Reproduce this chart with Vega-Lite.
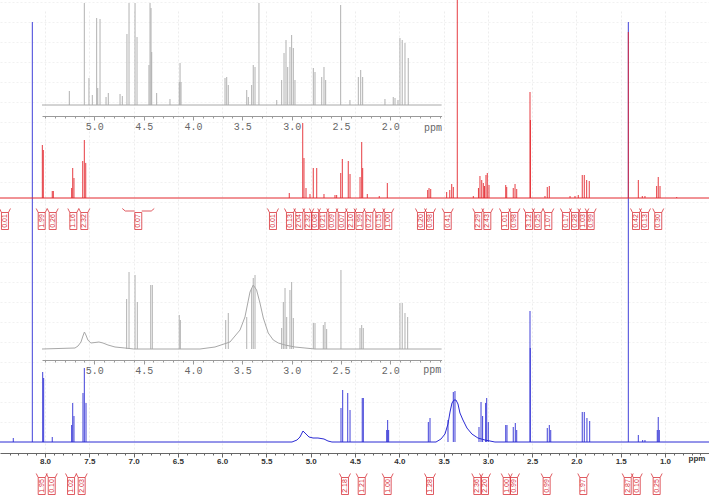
{
  "$schema": "https://vega.github.io/schema/vega-lite/v6.json",
  "width": 709,
  "height": 453,
  "autosize": "none",
  "padding": {"left": 0, "top": 0, "right": 0, "bottom": 44},
  "background": "white",
  "config": {"view": {"stroke": null}},
  "datasets": {
    "red_profile": [{"ppm": 8.508, "h": 0}, {"ppm": 0.503, "h": 0}],
    "red_sticks": [
      {"ppm": 8.030, "h": 53}, {"ppm": 8.019, "h": 48}, {"ppm": 7.918, "h": 7}, {"ppm": 7.906, "h": 7},
      {"ppm": 7.699, "h": 10}, {"ppm": 7.687, "h": 30}, {"ppm": 7.673, "h": 20}, {"ppm": 7.574, "h": 37},
      {"ppm": 7.556, "h": 58}, {"ppm": 7.540, "h": 35}, {"ppm": 5.242, "h": 5}, {"ppm": 5.090, "h": 75},
      {"ppm": 5.076, "h": 40}, {"ppm": 5.053, "h": 10}, {"ppm": 5.008, "h": 4}, {"ppm": 4.971, "h": 30},
      {"ppm": 4.932, "h": 30}, {"ppm": 4.850, "h": 4}, {"ppm": 4.726, "h": 3}, {"ppm": 4.707, "h": 3},
      {"ppm": 4.661, "h": 25}, {"ppm": 4.643, "h": 39}, {"ppm": 4.576, "h": 37}, {"ppm": 4.556, "h": 24},
      {"ppm": 4.443, "h": 21}, {"ppm": 4.424, "h": 56}, {"ppm": 4.413, "h": 30}, {"ppm": 4.361, "h": 4},
      {"ppm": 4.226, "h": 2}, {"ppm": 4.135, "h": 15}, {"ppm": 3.679, "h": 8}, {"ppm": 3.664, "h": 10},
      {"ppm": 3.645, "h": 9}, {"ppm": 3.465, "h": 6}, {"ppm": 3.430, "h": 8}, {"ppm": 3.408, "h": 14},
      {"ppm": 3.390, "h": 11}, {"ppm": 3.345, "h": 200}, {"ppm": 3.164, "h": 2}, {"ppm": 3.106, "h": 10},
      {"ppm": 3.089, "h": 22}, {"ppm": 3.069, "h": 18}, {"ppm": 3.051, "h": 15}, {"ppm": 3.038, "h": 12},
      {"ppm": 3.021, "h": 23}, {"ppm": 3.006, "h": 25}, {"ppm": 2.987, "h": 13}, {"ppm": 2.798, "h": 13},
      {"ppm": 2.787, "h": 11}, {"ppm": 2.713, "h": 10}, {"ppm": 2.693, "h": 14}, {"ppm": 2.674, "h": 9},
      {"ppm": 2.524, "h": 106}, {"ppm": 2.519, "h": 78}, {"ppm": 2.355, "h": 2}, {"ppm": 2.329, "h": 11},
      {"ppm": 2.306, "h": 12}, {"ppm": 2.072, "h": 2}, {"ppm": 2.016, "h": 2}, {"ppm": 1.979, "h": 3},
      {"ppm": 1.934, "h": 23}, {"ppm": 1.911, "h": 23}, {"ppm": 1.884, "h": 18}, {"ppm": 1.855, "h": 17},
      {"ppm": 1.414, "h": 166}, {"ppm": 1.301, "h": 18}, {"ppm": 1.256, "h": 2}, {"ppm": 1.226, "h": 2},
      {"ppm": 1.094, "h": 12}, {"ppm": 1.076, "h": 21}, {"ppm": 1.056, "h": 12}, {"ppm": 0.868, "h": 1}
    ],
    "red_integrals": [
      {"ppm": 8.452, "value": "0.01", "span": "narrow"}, {"ppm": 8.037, "value": "1.99", "span": "narrow"},
      {"ppm": 7.913, "value": "0.26", "span": "narrow"}, {"ppm": 7.680, "value": "1.16", "span": "narrow"},
      {"ppm": 7.556, "value": "2.32", "span": "narrow"}, {"ppm": 6.947, "value": "0.07", "span": "wide"},
      {"ppm": 5.426, "value": "0.01", "span": "narrow"}, {"ppm": 5.234, "value": "0.13", "span": "narrow"},
      {"ppm": 5.129, "value": "2.04", "span": "narrow"}, {"ppm": 5.027, "value": "2.32", "span": "narrow"},
      {"ppm": 4.952, "value": "0.08", "span": "narrow"}, {"ppm": 4.858, "value": "0.21", "span": "narrow"},
      {"ppm": 4.756, "value": "0.09", "span": "narrow"}, {"ppm": 4.650, "value": "0.07", "span": "narrow"},
      {"ppm": 4.545, "value": "2.10", "span": "narrow"}, {"ppm": 4.449, "value": "1.99", "span": "narrow"},
      {"ppm": 4.338, "value": "0.22", "span": "narrow"}, {"ppm": 4.225, "value": "0.15", "span": "narrow"},
      {"ppm": 4.124, "value": "1.00", "span": "narrow"}, {"ppm": 3.755, "value": "0.20", "span": "narrow"},
      {"ppm": 3.653, "value": "0.98", "span": "narrow"}, {"ppm": 3.453, "value": "0.41", "span": "narrow"},
      {"ppm": 3.108, "value": "2.29", "span": "narrow"}, {"ppm": 3.006, "value": "2.43", "span": "narrow"},
      {"ppm": 2.806, "value": "1.01", "span": "narrow"}, {"ppm": 2.701, "value": "0.98", "span": "narrow"},
      {"ppm": 2.535, "value": "3.12", "span": "narrow"}, {"ppm": 2.437, "value": "0.25", "span": "narrow"},
      {"ppm": 2.317, "value": "1.07", "span": "narrow"}, {"ppm": 2.118, "value": "0.17", "span": "narrow"},
      {"ppm": 2.016, "value": "0.28", "span": "narrow"}, {"ppm": 1.922, "value": "1.03", "span": "narrow"},
      {"ppm": 1.839, "value": "0.99", "span": "narrow"}, {"ppm": 1.327, "value": "0.42", "span": "narrow"},
      {"ppm": 1.226, "value": "0.13", "span": "narrow"}, {"ppm": 1.076, "value": "0.30", "span": "narrow"}
    ],
    "blue_profile": [
      {"ppm": 8.508, "h": 0}, {"ppm": 5.211, "h": 0}, {"ppm": 5.155, "h": 2}, {"ppm": 5.121, "h": 5},
      {"ppm": 5.087, "h": 11}, {"ppm": 5.053, "h": 8}, {"ppm": 5.019, "h": 5}, {"ppm": 4.974, "h": 4},
      {"ppm": 4.918, "h": 4}, {"ppm": 4.850, "h": 3}, {"ppm": 4.805, "h": 1}, {"ppm": 4.760, "h": 0},
      {"ppm": 3.585, "h": 0}, {"ppm": 3.529, "h": 3}, {"ppm": 3.484, "h": 8}, {"ppm": 3.450, "h": 18},
      {"ppm": 3.427, "h": 30}, {"ppm": 3.405, "h": 39}, {"ppm": 3.382, "h": 42}, {"ppm": 3.360, "h": 42},
      {"ppm": 3.337, "h": 38}, {"ppm": 3.315, "h": 29}, {"ppm": 3.281, "h": 22}, {"ppm": 3.236, "h": 14},
      {"ppm": 3.180, "h": 8}, {"ppm": 3.112, "h": 4}, {"ppm": 3.033, "h": 2}, {"ppm": 2.920, "h": 0},
      {"ppm": 0.503, "h": 0}
    ],
    "blue_sticks": [
      {"ppm": 8.358, "h": 4}, {"ppm": 8.143, "h": 420}, {"ppm": 8.026, "h": 70}, {"ppm": 8.015, "h": 64},
      {"ppm": 7.918, "h": 5}, {"ppm": 7.699, "h": 17}, {"ppm": 7.687, "h": 39}, {"ppm": 7.673, "h": 26},
      {"ppm": 7.571, "h": 49}, {"ppm": 7.556, "h": 74}, {"ppm": 7.537, "h": 39}, {"ppm": 4.658, "h": 34},
      {"ppm": 4.639, "h": 52}, {"ppm": 4.582, "h": 49}, {"ppm": 4.556, "h": 32}, {"ppm": 4.418, "h": 44},
      {"ppm": 4.406, "h": 44}, {"ppm": 4.142, "h": 12}, {"ppm": 4.131, "h": 22}, {"ppm": 4.120, "h": 12},
      {"ppm": 3.672, "h": 20}, {"ppm": 3.653, "h": 24}, {"ppm": 3.450, "h": 22}, {"ppm": 3.390, "h": 50},
      {"ppm": 3.371, "h": 51}, {"ppm": 3.100, "h": 15}, {"ppm": 3.077, "h": 40}, {"ppm": 3.059, "h": 26},
      {"ppm": 3.025, "h": 39}, {"ppm": 3.013, "h": 44}, {"ppm": 2.995, "h": 20}, {"ppm": 2.798, "h": 17},
      {"ppm": 2.784, "h": 17}, {"ppm": 2.713, "h": 15}, {"ppm": 2.690, "h": 19}, {"ppm": 2.674, "h": 12},
      {"ppm": 2.524, "h": 131}, {"ppm": 2.521, "h": 94}, {"ppm": 2.329, "h": 14}, {"ppm": 2.306, "h": 17},
      {"ppm": 2.290, "h": 12}, {"ppm": 1.934, "h": 30}, {"ppm": 1.911, "h": 30}, {"ppm": 1.881, "h": 24},
      {"ppm": 1.850, "h": 21}, {"ppm": 1.414, "h": 420}, {"ppm": 1.301, "h": 7}, {"ppm": 1.252, "h": 2},
      {"ppm": 1.226, "h": 2}, {"ppm": 1.087, "h": 12}, {"ppm": 1.076, "h": 25}, {"ppm": 1.064, "h": 12}
    ],
    "blue_integrals": [
      {"ppm": 8.037, "value": "1.95", "span": "narrow"}, {"ppm": 7.924, "value": "0.10", "span": "narrow"},
      {"ppm": 7.706, "value": "1.02", "span": "narrow"}, {"ppm": 7.586, "value": "2.03", "span": "narrow"},
      {"ppm": 4.613, "value": "2.18", "span": "narrow"}, {"ppm": 4.424, "value": "1.21", "span": "narrow"},
      {"ppm": 4.131, "value": "1.00", "span": "narrow"}, {"ppm": 3.653, "value": "1.28", "span": "narrow"},
      {"ppm": 3.119, "value": "2.36", "span": "narrow"}, {"ppm": 3.032, "value": "2.20", "span": "narrow"},
      {"ppm": 2.787, "value": "1.00", "span": "narrow"}, {"ppm": 2.705, "value": "0.99", "span": "narrow"},
      {"ppm": 2.336, "value": "0.99", "span": "narrow"}, {"ppm": 1.922, "value": "1.97", "span": "narrow"},
      {"ppm": 1.421, "value": "2.87", "span": "narrow"}, {"ppm": 1.319, "value": "0.10", "span": "narrow"},
      {"ppm": 1.094, "value": "0.25", "span": "narrow"}
    ],
    "top_inset_profile": [{"ppm": 5.53, "h": 0}, {"ppm": 1.48, "h": 0}],
    "top_inset_sticks": [
      {"ppm": 5.253, "h": 14}, {"ppm": 5.101, "h": 102}, {"ppm": 5.054, "h": 27}, {"ppm": 5.020, "h": 10},
      {"ppm": 4.976, "h": 87}, {"ppm": 4.965, "h": 17}, {"ppm": 4.942, "h": 86}, {"ppm": 4.881, "h": 8},
      {"ppm": 4.858, "h": 12}, {"ppm": 4.739, "h": 11}, {"ppm": 4.716, "h": 9}, {"ppm": 4.669, "h": 71},
      {"ppm": 4.648, "h": 102}, {"ppm": 4.587, "h": 102}, {"ppm": 4.567, "h": 68}, {"ppm": 4.446, "h": 40},
      {"ppm": 4.435, "h": 102}, {"ppm": 4.425, "h": 97}, {"ppm": 4.418, "h": 53}, {"ppm": 4.368, "h": 12},
      {"ppm": 4.233, "h": 6}, {"ppm": 4.139, "h": 23}, {"ppm": 4.131, "h": 42}, {"ppm": 4.121, "h": 23},
      {"ppm": 3.675, "h": 27}, {"ppm": 3.658, "h": 28}, {"ppm": 3.642, "h": 20}, {"ppm": 3.455, "h": 15},
      {"ppm": 3.439, "h": 8}, {"ppm": 3.405, "h": 20}, {"ppm": 3.389, "h": 40}, {"ppm": 3.371, "h": 38},
      {"ppm": 3.331, "h": 102}, {"ppm": 3.151, "h": 5}, {"ppm": 3.101, "h": 25}, {"ppm": 3.077, "h": 52},
      {"ppm": 3.057, "h": 65}, {"ppm": 3.040, "h": 38}, {"ppm": 3.017, "h": 58}, {"ppm": 3.000, "h": 70},
      {"ppm": 2.983, "h": 57}, {"ppm": 2.966, "h": 25}, {"ppm": 2.780, "h": 37}, {"ppm": 2.763, "h": 33},
      {"ppm": 2.695, "h": 28}, {"ppm": 2.672, "h": 38}, {"ppm": 2.655, "h": 25}, {"ppm": 2.503, "h": 100},
      {"ppm": 2.409, "h": 5}, {"ppm": 2.324, "h": 28}, {"ppm": 2.300, "h": 35}, {"ppm": 2.280, "h": 28},
      {"ppm": 2.054, "h": 6}, {"ppm": 1.970, "h": 8}, {"ppm": 1.952, "h": 7}, {"ppm": 1.922, "h": 5},
      {"ppm": 1.902, "h": 67}, {"ppm": 1.879, "h": 65}, {"ppm": 1.851, "h": 62}, {"ppm": 1.818, "h": 47}
    ],
    "bottom_inset_profile": [
      {"ppm": 5.53, "h": 0}, {"ppm": 5.196, "h": 1}, {"ppm": 5.165, "h": 3}, {"ppm": 5.135, "h": 7},
      {"ppm": 5.115, "h": 13}, {"ppm": 5.100, "h": 17}, {"ppm": 5.085, "h": 14}, {"ppm": 5.065, "h": 9},
      {"ppm": 5.035, "h": 6}, {"ppm": 4.993, "h": 6.5}, {"ppm": 4.953, "h": 7}, {"ppm": 4.912, "h": 6},
      {"ppm": 4.861, "h": 4}, {"ppm": 4.790, "h": 2}, {"ppm": 4.690, "h": 1}, {"ppm": 4.600, "h": 0},
      {"ppm": 3.929, "h": 0}, {"ppm": 3.777, "h": 2}, {"ppm": 3.625, "h": 7}, {"ppm": 3.523, "h": 19},
      {"ppm": 3.473, "h": 32}, {"ppm": 3.422, "h": 57}, {"ppm": 3.389, "h": 64}, {"ppm": 3.355, "h": 59},
      {"ppm": 3.321, "h": 46}, {"ppm": 3.287, "h": 31}, {"ppm": 3.237, "h": 16}, {"ppm": 3.186, "h": 9},
      {"ppm": 3.135, "h": 6}, {"ppm": 3.067, "h": 4}, {"ppm": 2.966, "h": 2}, {"ppm": 2.865, "h": 1},
      {"ppm": 2.763, "h": 0}, {"ppm": 1.48, "h": 0}
    ],
    "bottom_inset_sticks": [
      {"ppm": 4.672, "h": 50}, {"ppm": 4.648, "h": 77}, {"ppm": 4.587, "h": 74}, {"ppm": 4.564, "h": 47},
      {"ppm": 4.428, "h": 64}, {"ppm": 4.412, "h": 64}, {"ppm": 4.139, "h": 34}, {"ppm": 4.128, "h": 29},
      {"ppm": 3.668, "h": 29}, {"ppm": 3.642, "h": 36}, {"ppm": 3.455, "h": 32}, {"ppm": 3.405, "h": 61},
      {"ppm": 3.389, "h": 71}, {"ppm": 3.371, "h": 74}, {"ppm": 3.101, "h": 21}, {"ppm": 3.084, "h": 47},
      {"ppm": 3.067, "h": 61}, {"ppm": 3.050, "h": 32}, {"ppm": 3.017, "h": 59}, {"ppm": 3.000, "h": 67},
      {"ppm": 2.983, "h": 31}, {"ppm": 2.780, "h": 26}, {"ppm": 2.763, "h": 26}, {"ppm": 2.679, "h": 24},
      {"ppm": 2.662, "h": 27}, {"ppm": 2.645, "h": 20}, {"ppm": 2.500, "h": 79}, {"ppm": 2.307, "h": 21},
      {"ppm": 2.290, "h": 24}, {"ppm": 2.274, "h": 21}, {"ppm": 1.902, "h": 46}, {"ppm": 1.879, "h": 46},
      {"ppm": 1.851, "h": 36}, {"ppm": 1.824, "h": 32}
    ]
  },
  "layer": [
    {
      "data": {"name": "blue_profile"},
      "mark": {"type": "line", "color": "#2b2bd4", "strokeWidth": 1},
      "encoding": {
        "x": {
          "field": "ppm", "type": "quantitative",
          "scale": {"domain": [8.508, 0.503], "nice": false, "zero": false},
          "axis": {
            "orient": "bottom", "title": null,
            "values": [8.0, 7.5, 7.0, 6.5, 6.0, 5.5, 5.0, 4.5, 4.0, 3.5, 3.0, 2.5, 2.0, 1.5, 1.0],
            "format": ".1f", "tickSize": 4,
            "grid": true, "gridColor": "#ededed", "gridDash": [2, 2],
            "domainColor": "#666666", "tickColor": "#666666",
            "labelFont": "Liberation Sans", "labelFontWeight": "bold", "labelFontSize": 8,
            "labelColor": "#333333", "labelPadding": 0, "labelOverlap": false, "labelFlush": false
          }
        },
        "y": {
          "field": "h", "type": "quantitative",
          "scale": {"domain": [0, 442], "range": [442, 0], "nice": false, "zero": false},
          "axis": {
            "values": [20, 40, 60, 80, 100, 120, 140, 160, 180, 200, 220, 240, 260, 280, 300, 320, 340, 360, 380, 400, 420, 440],
            "grid": true, "labels": false, "ticks": false, "domain": false, "title": null,
            "gridColor": "#f1f1f1", "gridDash": [2, 2]
          }
        }
      }
    },
    {
      "data": {"name": "blue_profile"},
      "mark": {"type": "line", "opacity": 0},
      "encoding": {
        "x": {
          "field": "ppm", "type": "quantitative",
          "scale": {"domain": [8.508, 0.503], "nice": false, "zero": false},
          "axis": {
            "orient": "bottom", "title": null, "labels": false, "domain": false, "grid": false,
            "values": [8.4, 8.3, 8.2, 8.1, 7.9, 7.8, 7.7, 7.6, 7.4, 7.3, 7.2, 7.1, 6.9, 6.8, 6.7, 6.6, 6.4, 6.3, 6.2, 6.1, 5.9, 5.8, 5.7, 5.6, 5.4, 5.3, 5.2, 5.1, 4.9, 4.8, 4.7, 4.6, 4.4, 4.3, 4.2, 4.1, 3.9, 3.8, 3.7, 3.6, 3.4, 3.3, 3.2, 3.1, 2.9, 2.8, 2.7, 2.6, 2.4, 2.3, 2.2, 2.1, 1.9, 1.8, 1.7, 1.6, 1.4, 1.3, 1.2, 1.1, 0.9, 0.8, 0.7, 0.6],
            "tickSize": 2, "tickColor": "#666666"
          }
        },
        "y": {"field": "h", "type": "quantitative", "scale": {"domain": [0, 442], "range": [442, 0], "nice": false, "zero": false}, "axis": null}
      }
    },
    {
      "data": {"name": "blue_sticks"},
      "mark": {"type": "rule", "color": "#2b2bd4", "strokeWidth": 0.9},
      "encoding": {
        "x": {"field": "ppm", "type": "quantitative", "scale": {"domain": [8.508, 0.503], "nice": false, "zero": false}, "axis": null},
        "y": {"field": "h", "type": "quantitative", "scale": {"domain": [0, 442], "range": [442, 0], "nice": false, "zero": false}, "axis": null},
        "y2": {"datum": 0}
      }
    },
    {
      "data": {"name": "blue_integrals"},
      "mark": {"type": "point", "filled": false, "stroke": "#d8323a", "strokeWidth": 0.8, "size": 4, "opacity": 1},
      "encoding": {
        "x": {"field": "ppm", "type": "quantitative", "scale": {"domain": [8.508, 0.503], "nice": false, "zero": false}, "axis": null},
        "y": {"datum": -44, "type": "quantitative", "scale": {"domain": [0, 442], "range": [442, 0], "nice": false, "zero": false}, "axis": null},
        "shape": {
          "field": "span", "type": "nominal", "legend": null,
          "scale": {
            "domain": ["narrow", "wide"],
            "range": [
              "M-3.5,-8.5L3.5,-8.5L3.5,8.5L-3.5,8.5ZM-5.5,-12.5L-3.5,-8.5M5.5,-12.5L3.5,-8.5",
              "M-3.5,-8.5L3.5,-8.5L3.5,8.5L-3.5,8.5ZM-16,-12.5L-13,-10L-3.5,-10M16,-12.5L13,-10L3.5,-10"
            ]
          }
        }
      }
    },
    {
      "data": {"name": "blue_integrals"},
      "mark": {"type": "text", "angle": 270, "font": "Liberation Sans", "fontSize": 7, "color": "#d8323a", "align": "center", "baseline": "middle"},
      "encoding": {
        "x": {"field": "ppm", "type": "quantitative", "scale": {"domain": [8.508, 0.503], "nice": false, "zero": false}, "axis": null},
        "y": {"datum": -44, "type": "quantitative", "scale": {"domain": [0, 442], "range": [442, 0], "nice": false, "zero": false}, "axis": null},
        "text": {"field": "value", "type": "nominal"}
      }
    },
    {
      "data": {"values": [{"unit": "ppm"}]},
      "mark": {"type": "text", "font": "Liberation Sans", "fontWeight": "bold", "fontSize": 8, "color": "#333333", "align": "center", "baseline": "middle"},
      "encoding": {
        "x": {"datum": 0.639, "type": "quantitative", "scale": {"domain": [8.508, 0.503], "nice": false, "zero": false}, "axis": null},
        "y": {"datum": -17, "type": "quantitative", "scale": {"domain": [0, 442], "range": [442, 0], "nice": false, "zero": false}, "axis": null},
        "text": {"field": "unit", "type": "nominal"}
      }
    },
    {
      "data": {"name": "red_profile"},
      "mark": {"type": "line", "color": "#e3262d", "strokeWidth": 1},
      "encoding": {
        "x": {"field": "ppm", "type": "quantitative", "scale": {"domain": [8.508, 0.503], "nice": false, "zero": false}, "axis": null},
        "y": {"field": "h", "type": "quantitative", "scale": {"domain": [0, 198], "range": [198, 0], "nice": false, "zero": false}, "axis": null}
      }
    },
    {
      "data": {"name": "red_sticks"},
      "mark": {"type": "rule", "color": "#e3262d", "strokeWidth": 0.9},
      "encoding": {
        "x": {"field": "ppm", "type": "quantitative", "scale": {"domain": [8.508, 0.503], "nice": false, "zero": false}, "axis": null},
        "y": {"field": "h", "type": "quantitative", "scale": {"domain": [0, 198], "range": [198, 0], "nice": false, "zero": false}, "axis": null},
        "y2": {"datum": 0}
      }
    },
    {
      "data": {"name": "red_integrals"},
      "mark": {"type": "point", "filled": false, "stroke": "#d8323a", "strokeWidth": 0.8, "size": 4, "opacity": 1},
      "encoding": {
        "x": {"field": "ppm", "type": "quantitative", "scale": {"domain": [8.508, 0.503], "nice": false, "zero": false}, "axis": null},
        "y": {"datum": -23, "type": "quantitative", "scale": {"domain": [0, 198], "range": [198, 0], "nice": false, "zero": false}, "axis": null},
        "shape": {
          "field": "span", "type": "nominal", "legend": null,
          "scale": {
            "domain": ["narrow", "wide"],
            "range": [
              "M-3.5,-8.5L3.5,-8.5L3.5,8.5L-3.5,8.5ZM-5.5,-12.5L-3.5,-8.5M5.5,-12.5L3.5,-8.5",
              "M-3.5,-8.5L3.5,-8.5L3.5,8.5L-3.5,8.5ZM-16,-12.5L-13,-10L-3.5,-10M16,-12.5L13,-10L3.5,-10"
            ]
          }
        }
      }
    },
    {
      "data": {"name": "red_integrals"},
      "mark": {"type": "text", "angle": 270, "font": "Liberation Sans", "fontSize": 7, "color": "#d8323a", "align": "center", "baseline": "middle"},
      "encoding": {
        "x": {"field": "ppm", "type": "quantitative", "scale": {"domain": [8.508, 0.503], "nice": false, "zero": false}, "axis": null},
        "y": {"datum": -23, "type": "quantitative", "scale": {"domain": [0, 198], "range": [198, 0], "nice": false, "zero": false}, "axis": null},
        "text": {"field": "value", "type": "nominal"}
      }
    },
    {
      "data": {"name": "top_inset_profile"},
      "mark": {"type": "line", "color": "#a8a8a8", "strokeWidth": 1},
      "encoding": {
        "x": {
          "field": "ppm", "type": "quantitative",
          "scale": {"domain": [5.53, 1.48], "range": [42, 441.6], "nice": false, "zero": false},
          "axis": {
            "orient": "bottom", "offset": -337, "title": null, "grid": false,
            "values": [5.0, 4.5, 4.0, 3.5, 3.0, 2.5, 2.0], "format": ".1f", "tickSize": 4,
            "domainColor": "#9a9a9a", "tickColor": "#9a9a9a",
            "labelFont": "Liberation Mono", "labelFontSize": 10, "labelColor": "#666666",
            "labelPadding": 1, "labelOverlap": false, "labelFlush": false
          }
        },
        "y": {"field": "h", "type": "quantitative", "scale": {"domain": [0, 102], "range": [105, 3], "nice": false, "zero": false}, "axis": null}
      }
    },
    {
      "data": {"name": "top_inset_profile"},
      "mark": {"type": "line", "opacity": 0},
      "encoding": {
        "x": {
          "field": "ppm", "type": "quantitative",
          "scale": {"domain": [5.53, 1.48], "range": [42, 441.6], "nice": false, "zero": false},
          "axis": {
            "orient": "bottom", "offset": -337, "title": null, "grid": false, "labels": false, "domain": false,
            "values": [5.5, 5.4, 5.3, 5.2, 5.1, 4.9, 4.8, 4.7, 4.6, 4.4, 4.3, 4.2, 4.1, 3.9, 3.8, 3.7, 3.6, 3.4, 3.3, 3.2, 3.1, 2.9, 2.8, 2.7, 2.6, 2.4, 2.3, 2.2, 2.1, 1.9, 1.8, 1.7, 1.6, 1.5],
            "tickSize": 2, "tickColor": "#9a9a9a"
          }
        },
        "y": {"field": "h", "type": "quantitative", "scale": {"domain": [0, 102], "range": [105, 3], "nice": false, "zero": false}, "axis": null}
      }
    },
    {
      "data": {"name": "top_inset_sticks"},
      "mark": {"type": "rule", "color": "#a8a8a8", "strokeWidth": 0.9},
      "encoding": {
        "x": {"field": "ppm", "type": "quantitative", "scale": {"domain": [5.53, 1.48], "range": [42, 441.6], "nice": false, "zero": false}, "axis": null},
        "y": {"field": "h", "type": "quantitative", "scale": {"domain": [0, 102], "range": [105, 3], "nice": false, "zero": false}, "axis": null},
        "y2": {"datum": 0}
      }
    },
    {
      "data": {"values": [{"unit": "ppm"}]},
      "mark": {"type": "text", "font": "Liberation Mono", "fontSize": 10, "color": "#666666", "align": "center", "baseline": "middle"},
      "encoding": {
        "x": {"datum": 1.567, "type": "quantitative", "scale": {"domain": [5.53, 1.48], "range": [42, 441.6], "nice": false, "zero": false}, "axis": null},
        "y": {"datum": -23, "type": "quantitative", "scale": {"domain": [0, 102], "range": [105, 3], "nice": false, "zero": false}, "axis": null},
        "text": {"field": "unit", "type": "nominal"}
      }
    },
    {
      "data": {"name": "bottom_inset_profile"},
      "mark": {"type": "line", "color": "#a8a8a8", "strokeWidth": 1},
      "encoding": {
        "x": {
          "field": "ppm", "type": "quantitative",
          "scale": {"domain": [5.53, 1.48], "range": [42, 441.6], "nice": false, "zero": false},
          "axis": {
            "orient": "bottom", "offset": -93, "title": null, "grid": false,
            "values": [5.0, 4.5, 4.0, 3.5, 3.0, 2.5, 2.0], "format": ".1f", "tickSize": 4,
            "domainColor": "#9a9a9a", "tickColor": "#9a9a9a",
            "labelFont": "Liberation Mono", "labelFontSize": 10, "labelColor": "#666666",
            "labelPadding": 1, "labelOverlap": false, "labelFlush": false
          }
        },
        "y": {"field": "h", "type": "quantitative", "scale": {"domain": [0, 79], "range": [349, 270], "nice": false, "zero": false}, "axis": null}
      }
    },
    {
      "data": {"name": "bottom_inset_profile"},
      "mark": {"type": "line", "opacity": 0},
      "encoding": {
        "x": {
          "field": "ppm", "type": "quantitative",
          "scale": {"domain": [5.53, 1.48], "range": [42, 441.6], "nice": false, "zero": false},
          "axis": {
            "orient": "bottom", "offset": -93, "title": null, "grid": false, "labels": false, "domain": false,
            "values": [5.5, 5.4, 5.3, 5.2, 5.1, 4.9, 4.8, 4.7, 4.6, 4.4, 4.3, 4.2, 4.1, 3.9, 3.8, 3.7, 3.6, 3.4, 3.3, 3.2, 3.1, 2.9, 2.8, 2.7, 2.6, 2.4, 2.3, 2.2, 2.1, 1.9, 1.8, 1.7, 1.6, 1.5],
            "tickSize": 2, "tickColor": "#9a9a9a"
          }
        },
        "y": {"field": "h", "type": "quantitative", "scale": {"domain": [0, 79], "range": [349, 270], "nice": false, "zero": false}, "axis": null}
      }
    },
    {
      "data": {"name": "bottom_inset_sticks"},
      "mark": {"type": "rule", "color": "#a8a8a8", "strokeWidth": 0.9},
      "encoding": {
        "x": {"field": "ppm", "type": "quantitative", "scale": {"domain": [5.53, 1.48], "range": [42, 441.6], "nice": false, "zero": false}, "axis": null},
        "y": {"field": "h", "type": "quantitative", "scale": {"domain": [0, 79], "range": [349, 270], "nice": false, "zero": false}, "axis": null},
        "y2": {"datum": 0}
      }
    },
    {
      "data": {"values": [{"unit": "ppm"}]},
      "mark": {"type": "text", "font": "Liberation Mono", "fontSize": 10, "color": "#666666", "align": "center", "baseline": "middle"},
      "encoding": {
        "x": {"datum": 1.574, "type": "quantitative", "scale": {"domain": [5.53, 1.48], "range": [42, 441.6], "nice": false, "zero": false}, "axis": null},
        "y": {"datum": -21, "type": "quantitative", "scale": {"domain": [0, 79], "range": [349, 270], "nice": false, "zero": false}, "axis": null},
        "text": {"field": "unit", "type": "nominal"}
      }
    }
  ],
  "resolve": {
    "scale": {"x": "independent", "y": "independent", "shape": "independent"},
    "axis": {"x": "independent", "y": "independent"}
  }
}
